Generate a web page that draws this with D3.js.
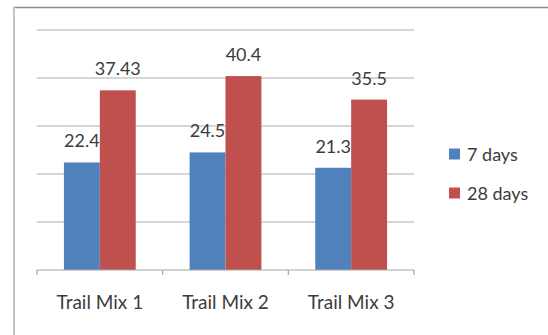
<!DOCTYPE html>
<html><head><meta charset="utf-8">
<script src="https://cdn.jsdelivr.net/npm/d3@7"></script>
<style>body{margin:0;background:#fff;}svg{display:block;}</style>
</head><body>
<script>
const categories = ["Trail Mix 1", "Trail Mix 2", "Trail Mix 3"];
const seriesNames = ["7 days", "28 days"];
const days7 = [22.4, 24.5, 21.3];
const days28 = [37.43, 40.4, 35.5];
const labels7 = ["22.4", "24.5", "21.3"];
const labels28 = ["37.43", "40.4", "35.5"];
const yTicks = [0, 10, 20, 30, 40, 50];
const colors = ["#4F81BD", "#C0504D"];

const W = 548, H = 335;
const svg = d3.select("body").append("svg").attr("width", W).attr("height", H);
const font = "Lato, 'Open Sans', sans-serif";
const textColor = "#3c3c3c";

// outer frame (top and left visible)
svg.append("line").attr("x1", 14).attr("x2", W).attr("y1", 7.5).attr("y2", 7.5).attr("stroke", "#8c8c8c").attr("stroke-width", 1.5);
svg.append("line").attr("x1", 14).attr("x2", 14).attr("y1", 7).attr("y2", H).attr("stroke", "#c4c4c4").attr("stroke-width", 2);

const x0 = d3.scaleBand().domain(categories).range([37, 414]).paddingInner(0).paddingOuter(0);
const x1 = d3.scaleBand().domain(seriesNames).range([0, x0.bandwidth()]).paddingOuter(0.75).paddingInner(0);
const y = d3.scaleLinear().domain([0, 50]).range([270, 30]);

// gridlines
const grid = svg.append("g");
grid.selectAll("line").data(yTicks.slice(1)).join("line")
  .attr("x1", 37).attr("x2", 414)
  .attr("y1", d => y(d)).attr("y2", d => y(d))
  .attr("stroke", "#c8c8c8").attr("stroke-width", 1.5);

// bars
const data = categories.map((c, i) => ({ c, vals: [days7[i], days28[i]], labs: [labels7[i], labels28[i]] }));
const groups = svg.append("g").selectAll("g").data(data).join("g")
  .attr("transform", d => `translate(${x0(d.c)},0)`);
groups.selectAll("rect").data(d => d.vals.map((v, j) => ({ v, s: seriesNames[j], j }))).join("rect")
  .attr("x", d => x1(d.s)).attr("width", x1.bandwidth())
  .attr("y", d => y(d.v)).attr("height", d => y(0) - y(d.v))
  .attr("fill", d => colors[d.j]);
groups.selectAll("text").data(d => d.vals.map((v, j) => ({ v, s: seriesNames[j], lab: d.labs[j] }))).join("text")
  .attr("x", d => x1(d.s) + x1.bandwidth() / 2)
  .attr("y", d => y(d.v) - 15)
  .attr("text-anchor", "middle")
  .attr("font-family", font).attr("font-size", 18).attr("fill", textColor)
  .text(d => d.lab);

// x axis
const xAxis = svg.append("g").attr("transform", `translate(0,${y(0)})`);
xAxis.append("line").attr("x1", 37).attr("x2", 414).attr("stroke", "#a6a6a6").attr("stroke-width", 1.2);
const bounds = categories.map(c => x0(c)).concat([x0(categories[categories.length - 1]) + x0.bandwidth()]);
xAxis.selectAll("line.tk").data(bounds).join("line").attr("class", "tk")
  .attr("x1", d => d).attr("x2", d => d).attr("y1", 0).attr("y2", 5)
  .attr("stroke", "#a6a6a6").attr("stroke-width", 1.2);
xAxis.selectAll("text").data(categories).join("text")
  .attr("x", d => x0(d) + x0.bandwidth() / 2).attr("y", 39)
  .attr("text-anchor", "middle")
  .attr("font-family", font).attr("font-size", 19).attr("fill", textColor)
  .text(d => d);

// legend
const leg = svg.append("g").selectAll("g").data(seriesNames).join("g")
  .attr("transform", (d, i) => `translate(449,${154 + i * 39})`);
leg.append("rect").attr("x", 0).attr("y", -5.5).attr("width", 11).attr("height", 11).attr("fill", (d, i) => colors[i]);
leg.append("text").attr("x", 18).attr("y", 6.5).attr("font-family", font).attr("font-size", 18).attr("fill", textColor).text(d => d);
</script>
</body></html>
